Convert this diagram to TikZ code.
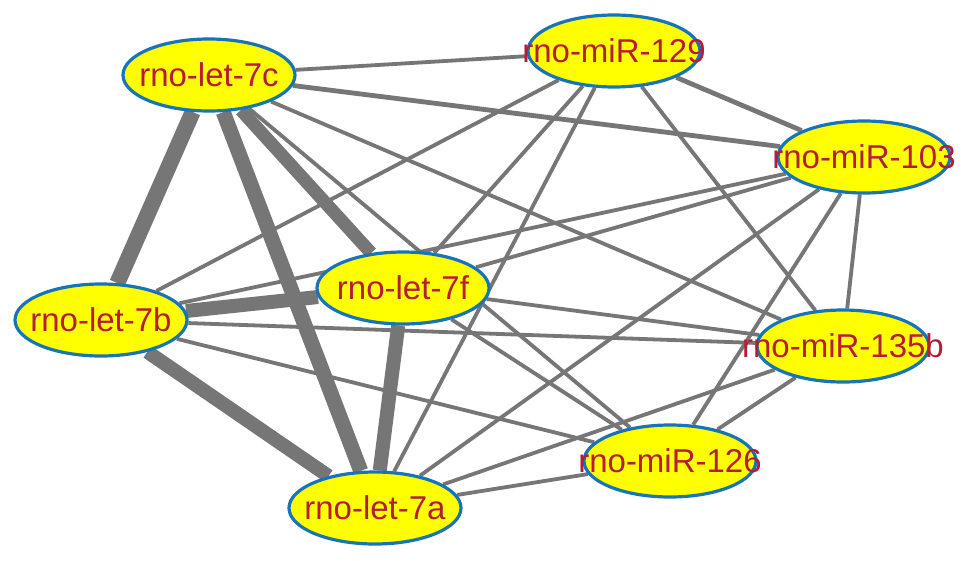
\documentclass[tikz,border=0pt]{standalone}
\usepackage{fontspec}
\setmainfont{Liberation Sans}
\usetikzlibrary{shapes.geometric,backgrounds}
\definecolor{nodefill}{RGB}{255,255,0}
\definecolor{nodeline}{RGB}{24,116,184}
\definecolor{labeltext}{RGB}{180,28,58}
\definecolor{edgegray}{RGB}{118,118,118}
\begin{document}
\begin{tikzpicture}[x=1pt,y=-1pt,
  mirna/.style={ellipse, draw=nodeline, line width=3.2pt, fill=nodefill,
    minimum width=172pt, minimum height=72pt, inner sep=0pt,
    text=labeltext, font=\fontsize{33}{36}\selectfont},
  thinedge/.style={draw=edgegray, line width=3.8pt},
  midedge/.style={draw=edgegray, line width=4.8pt},
  thickedge/.style={draw=edgegray, line width=#1},
  thickedge/.default=14pt]
\useasboundingbox (0,0) rectangle (971,560);
\node[mirna] (c)    at (209,75)  {\makebox[0pt]{rno-let-7c}};
\node[mirna] (m129) at (614,51)  {\makebox[0pt]{rno-miR-129}};
\node[mirna] (m103) at (864,157) {\makebox[0pt]{rno-miR-103}};
\node[mirna] (f)    at (403,288) {\makebox[0pt]{rno-let-7f}};
\node[mirna] (b)    at (101,320) {\makebox[0pt]{rno-let-7b}};
\node[mirna] (m135) at (843,346) {\makebox[0pt]{rno-miR-135b}};
\node[mirna] (m126) at (670,461) {\makebox[0pt]{rno-miR-126}};
\node[mirna] (a)    at (375,508) {\makebox[0pt]{rno-let-7a}};
\begin{scope}[on background layer]
\fill[white] (0,0) rectangle (971,560);
% thick let-7 clique
\draw[thickedge=16pt] (c) -- (b);
\draw[thickedge=15pt] (c) -- (a);
\draw[thickedge=13pt] (c) -- (f);
\draw[thickedge=14pt] (b) -- (f);
\draw[thickedge=14pt] (b) -- (a);
\draw[thickedge=14pt] (f) -- (a);
% let-7c
\draw[thinedge] (c) -- (m129);
\draw[midedge]  (c) -- (m103);
\draw[thinedge] (c) -- (m135);
\draw[thinedge] (c) -- (m126);
% let-7b
\draw[thinedge] (b) -- (m129);
\draw[thinedge] (b) -- (m103);
\draw[thinedge] (b) -- (m135);
\draw[thinedge] (b) -- (m126);
% let-7f
\draw[thinedge] (f) -- (m129);
\draw[thinedge] (f) -- (m103);
\draw[thinedge] (f) -- (m135);
\draw[thinedge] (f) -- (m126);
% let-7a
\draw[thinedge] (a) -- (m129);
\draw[thinedge] (a) -- (m103);
\draw[thinedge] (a) -- (m135);
\draw[thinedge] (a) -- (m126);
% miRs
\draw[midedge]  (m129) -- (m103);
\draw[thinedge] (m129) -- (m135);
\draw[thinedge] (m103) -- (m135);
\draw[thinedge] (m103) -- (m126);
\draw[thinedge] (m135) -- (m126);
\end{scope}
\end{tikzpicture}
\end{document}
